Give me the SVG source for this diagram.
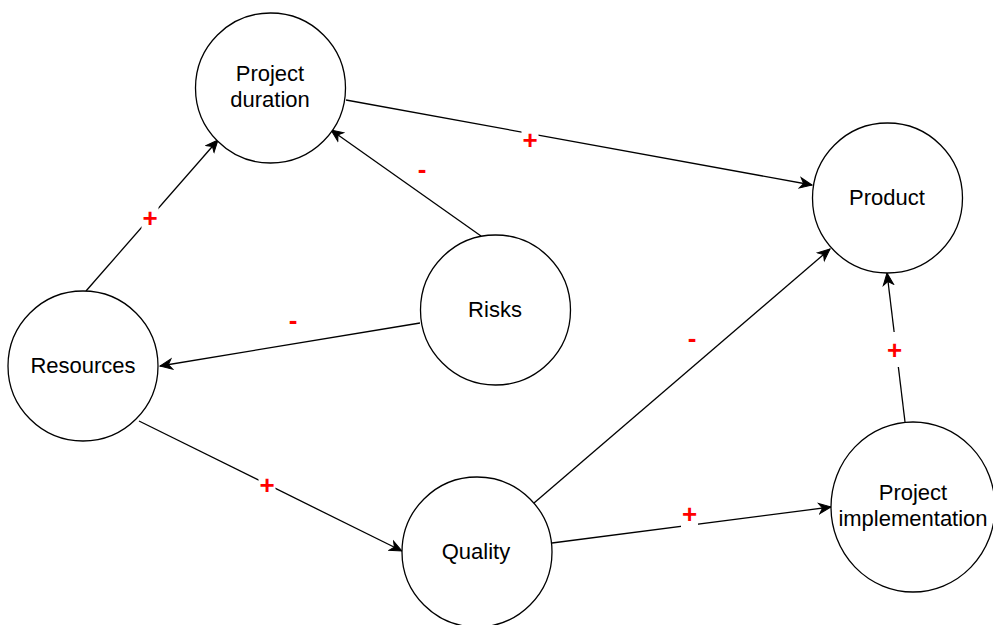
<svg xmlns="http://www.w3.org/2000/svg" width="993" height="625" viewBox="0 0 993 625">
  <style>
    .node { fill: #ffffff; stroke: #000000; stroke-width: 1.3; }
    .label { font-family: "Liberation Sans", Arial, sans-serif; font-size: 22px; fill: #000000; text-anchor: middle; }
    .edge { fill: none; stroke: #000000; stroke-width: 1.3; marker-end: url(#arrow); }
    .sign { font-family: "Liberation Sans", Arial, sans-serif; font-size: 26px; font-weight: bold; fill: #ff0000; text-anchor: middle; }
    .gap { fill: #ffffff; }
  </style>
  <defs>
    <marker id="arrow" markerUnits="userSpaceOnUse" markerWidth="16" markerHeight="14" refX="13" refY="7" orient="auto">
      <path d="M13,7 L1,1.8 L4.5,7 L1,12.2 Z" fill="#000000" stroke="#000000" stroke-width="1"/>
    </marker>
  </defs>
  <rect width="993" height="625" fill="#ffffff"/>

  <!-- connectors -->
  <g id="edges">
    <path class="edge" d="M86,291 L218,140"/>
    <path class="edge" d="M481,236 L331,130"/>
    <path class="edge" d="M346,100 L812,185"/>
    <path class="edge" d="M420,323 L160,366"/>
    <path class="edge" d="M139,421 L402,551"/>
    <path class="edge" d="M534,503 L830,249"/>
    <path class="edge" d="M552,543 L831,507"/>
    <path class="edge" d="M905,422 L887,273"/>
  </g>

  <!-- polarity labels -->
  <g id="edge-labels">
    <rect class="gap" x="141.5" y="202" width="17" height="32"/>
    <text class="sign" x="150" y="227">+</text>
    <text class="sign" x="422" y="178">-</text>
    <rect class="gap" x="521.5" y="124" width="17" height="32"/>
    <text class="sign" x="530" y="149">+</text>
    <text class="sign" x="293" y="329">-</text>
    <rect class="gap" x="258.5" y="469" width="17" height="32"/>
    <text class="sign" x="267" y="494">+</text>
    <text class="sign" x="692" y="347">-</text>
    <rect class="gap" x="681" y="498" width="17" height="32"/>
    <text class="sign" x="689.5" y="523">+</text>
    <rect class="gap" x="886" y="332" width="17" height="35"/>
    <text class="sign" x="894.5" y="359">+</text>
  </g>

  <!-- nodes -->
  <g id="project-duration">
    <circle class="node" cx="270.5" cy="88" r="75"/>
    <text class="label" x="270" y="81">Project</text>
    <text class="label" x="270" y="107">duration</text>
  </g>
  <g id="product">
    <circle class="node" cx="887.5" cy="198" r="75"/>
    <text class="label" x="887" y="205">Product</text>
  </g>
  <g id="risks">
    <circle class="node" cx="495.5" cy="310" r="75"/>
    <text class="label" x="495" y="317">Risks</text>
  </g>
  <g id="resources">
    <circle class="node" cx="83" cy="366" r="75"/>
    <text class="label" x="83" y="373">Resources</text>
  </g>
  <g id="quality">
    <circle class="node" cx="477" cy="552" r="75"/>
    <text class="label" x="476" y="559">Quality</text>
  </g>
  <g id="project-implementation">
    <ellipse class="node" cx="913" cy="507" rx="82" ry="85"/>
    <text class="label" x="913" y="500">Project</text>
    <text class="label" x="913" y="526">implementation</text>
  </g>
</svg>
